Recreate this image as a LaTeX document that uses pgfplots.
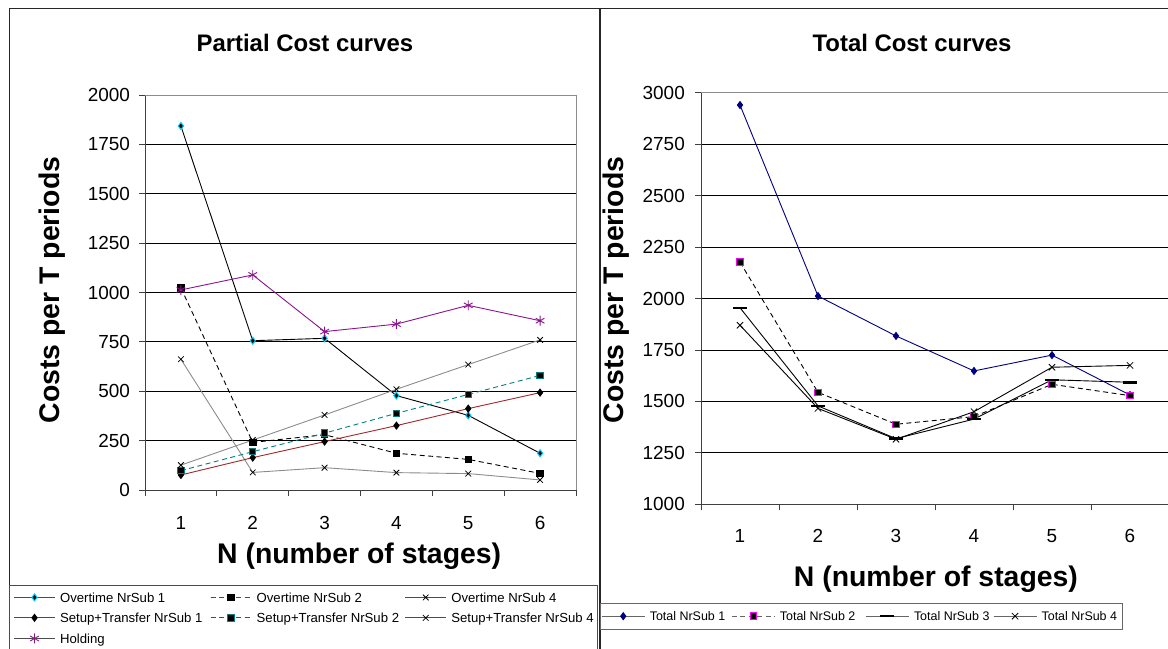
\documentclass[border=0pt]{standalone}
\usepackage{pgfplots}
\pgfplotsset{compat=1.18}
\usepackage{fontspec}
\setmainfont{Liberation Sans}

\definecolor{cyanm}{RGB}{0,204,255}
\definecolor{redbrown}{RGB}{160,40,40}
\definecolor{tealc}{RGB}{0,128,128}
\definecolor{purp}{RGB}{140,20,140}
\definecolor{navyc}{RGB}{0,0,128}
\definecolor{magm}{RGB}{255,0,255}
\definecolor{grayl}{RGB}{140,140,140}

\pgfplotsset{
 common/.style={
  scale only axis,
  axis x line*=bottom, axis y line*=left,
  axis line style={-, black!75, line width=0.9bp},
  xmin=0.5, xmax=6.5, xtick={1,...,6},
  minor xtick={0.5,1.5,...,6.5},
  major x tick style={draw=none},
  tick align=outside,
  major tick length=6bp, minor tick length=6bp,
  every tick/.append style={black!75, line width=0.8bp},
  ymajorgrids, major grid style={black, line width=0.8bp},
  tick label style={font=\fontsize{19}{20}\selectfont},
  /pgf/number format/assume math mode=true,
  /pgf/number format/1000 sep={},
  title style={font=\fontsize{24}{26}\selectfont\bfseries, anchor=center},
  label style={font=\fontsize{28.5}{30}\selectfont\bfseries, anchor=center},
  every axis plot/.append style={line width=0.9bp},
  legend cell align=left,
  clip=false,
 },
 limgL/.style={legend image code/.code={%
   \draw[##1, draw=#1, line width=1.1bp] (0bp,0bp) -- (41bp,0bp);
   \draw[##1] plot coordinates {(20.5bp,0bp)};}},
 limgR/.style={legend image code/.code={%
   \draw[##1, draw=#1, line width=1.1bp] (0bp,0bp) -- (43bp,0bp);
   \draw[##1] plot coordinates {(21.5bp,0bp)};}},
}

\begin{document}
\begin{tikzpicture}
\useasboundingbox (0,0) rectangle (1168bp,649bp);
\draw[black!85, line width=1.2bp] (9.5bp,-5bp) -- (9.5bp,640.7bp) -- (1170bp,640.7bp);
\draw[black!85, line width=1.2bp] (600bp,-5bp) -- (600bp,640.7bp);

% ---------------- Left chart ----------------
\begin{axis}[common,
  at={(145bp,159bp)}, anchor=south west,
  width=431bp, height=395bp,
  ymin=0, ymax=2000, ytick={0,250,...,2000},
  yticklabel style={xshift=-5.5bp},
  xticklabel style={yshift=-17bp},
  title={Partial Cost curves},
  title style={at={(axis description cs:0.371,1.1164)}},
  xlabel={N (number of stages)},
  xlabel style={at={(axis description cs:0.497,-0.167)}},
  ylabel={Costs per T periods},
  ylabel style={at={(axis description cs:-0.2158,0.5063)}},
  legend columns=3,
  legend style={at={(-0.3149,-0.2405)}, anchor=north west, draw=none, fill=white,
    postaction={draw=black!70, line width=0.8bp},
    inner xsep=4bp, inner ysep=7.5bp, font=\fontsize{13.2}{14}\selectfont,
    nodes={inner sep=0pt, text height=9.5bp, text depth=0pt},
    row sep=10.9bp, column sep=0pt,
    /tikz/every odd column/.append style={column sep=4.5bp}},
]
\addplot[black, draw=black, limgL=black, mark=diamond*, mark size=3.5bp, mark options={solid, fill=black, draw=cyanm, line width=1bp}]
  coordinates {(1,1843)(2,756)(3,768)(4,478)(5,378)(6,186)};
\addlegendentry{\makebox[150bp][l]{Overtime NrSub 1}}
\addplot[black, draw=black, limgL=black, dash pattern=on 5bp off 3.5bp, mark=square*, mark size=3.2bp, mark options={solid, fill=black, draw=black}]
  coordinates {(1,1023)(2,241)(3,280)(4,186)(5,155)(6,84)};
\addlegendentry{\makebox[148bp][l]{Overtime NrSub 2}}
\addplot[grayl, draw=grayl, limgL=grayl, mark=x, mark size=4bp, mark options={draw=black, line width=0.8bp}]
  coordinates {(1,662)(2,89)(3,113)(4,88)(5,83)(6,51)};
\addlegendentry{\makebox[140bp][l]{Overtime NrSub 4}}
\addplot[redbrown, draw=redbrown, limgL=redbrown, mark=diamond*, mark size=3.5bp, mark options={solid, fill=black, draw=black}]
  coordinates {(1,76)(2,164)(3,245)(4,326)(5,412)(6,493)};
\addlegendentry{Setup+Transfer NrSub 1}
\addplot[tealc, draw=tealc, limgL=tealc, dash pattern=on 5bp off 3.5bp, mark=square*, mark size=3.2bp, mark options={solid, fill=black, draw=tealc, line width=1bp}]
  coordinates {(1,98)(2,194)(3,288)(4,388)(5,484)(6,580)};
\addlegendentry{Setup+Transfer NrSub 2}
\addplot[grayl, draw=grayl, limgL=grayl, mark=x, mark size=4bp, mark options={draw=black, line width=0.8bp}]
  coordinates {(1,126)(2,253)(3,380)(4,510)(5,635)(6,760)};
\addlegendentry{Setup+Transfer NrSub 4}
\addplot[purp, draw=purp, limgL=purp, mark=asterisk, mark size=5bp, mark options={draw=purp, line width=0.9bp}]
  coordinates {(1,1013)(2,1089)(3,802)(4,840)(5,935)(6,857)};
\addlegendentry{Holding}
\draw[black!45, line width=0.8bp] (rel axis cs:0,1) -- (rel axis cs:1,1) -- (rel axis cs:1,0);
\end{axis}

% ---------------- Right chart ----------------
\begin{axis}[common,
  at={(701bp,144.7bp)}, anchor=south west,
  width=468bp, height=411.6bp,
  ymin=1000, ymax=3000, ytick={1000,1250,...,3000},
  yticklabel style={xshift=-6.7bp},
  xticklabel style={yshift=-15.5bp},
  title={Total Cost curves},
  title style={at={(axis description cs:0.4509,1.1061)}},
  xlabel={N (number of stages)},
  xlabel style={at={(axis description cs:0.502,-0.1815)}},
  ylabel={Costs per T periods},
  ylabel style={at={(axis description cs:-0.1816,0.5207)}},
  legend columns=4,
  legend style={at={(-0.2158,-0.2391)}, anchor=north west, draw=none, fill=white,
    postaction={draw=black!60, line width=0.8bp},
    inner xsep=1bp, inner ysep=8.8bp, font=\fontsize{12.5}{13}\selectfont,
    nodes={inner sep=0pt, text height=8.95bp, text depth=0pt},
    column sep=0pt,
    /tikz/every odd column/.append style={column sep=4.5bp}},
]
\addplot[navyc, draw=navyc, limgR=navyc, mark=diamond*, mark size=3.5bp, mark options={solid, fill=navyc, draw=navyc}]
  coordinates {(1,2940)(2,2012)(3,1818)(4,1648)(5,1725)(6,1531)};
\addlegendentry{\makebox[81.5bp][l]{Total NrSub 1}}
\addplot[black, draw=black, limgR=black, dash pattern=on 5bp off 3.5bp, mark=square*, mark size=3.2bp, mark options={solid, fill=black, draw=magm, line width=1bp}]
  coordinates {(1,2177)(2,1544)(3,1389)(4,1426)(5,1583)(6,1528)};
\addlegendentry{\makebox[85.5bp][l]{Total NrSub 2}}
\addplot[black, draw=black, limgR=black, mark=-, mark size=7bp, mark options={solid, draw=black, line width=2.5bp}]
  coordinates {(1,1955)(2,1478)(3,1319)(4,1414)(5,1605)(6,1593)};
\addlegendentry{\makebox[79bp][l]{Total NrSub 3}}
\addplot[black, draw=black, limgR=black, mark=x, mark size=4.5bp, mark options={solid, draw=black, line width=0.8bp}]
  coordinates {(1,1870)(2,1466)(3,1316)(4,1450)(5,1666)(6,1675)};
\addlegendentry{\makebox[80bp][l]{Total NrSub 4}}
\draw[black!45, line width=0.8bp] (rel axis cs:0,1) -- (rel axis cs:1,1) -- (rel axis cs:1,0);
\end{axis}
\end{tikzpicture}
\end{document}
